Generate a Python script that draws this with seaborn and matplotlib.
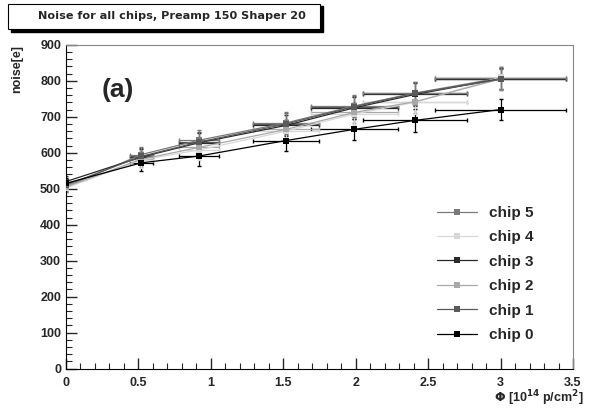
import numpy as np
import pandas as pd
import matplotlib
matplotlib.use("Agg")
import matplotlib.pyplot as plt
import seaborn as sns
from matplotlib.ticker import MultipleLocator

# fluence points (10^14 p/cm^2) and relative x error
fluence = [0.0, 0.52, 0.92, 1.52, 1.99, 2.41, 3.0]
x_rel_err = 0.15

chips = ["chip 5", "chip 4", "chip 3", "chip 2", "chip 1", "chip 0"]
chip5 = [505, 595, 635, 683, 730, 766, 808]
chip4 = [502, 580, 608, 660, 708, 740, 810]
chip3 = [520, 588, 628, 676, 725, 762, 806]
chip2 = [505, 582, 615, 665, 712, 742, 805]
chip1 = [510, 590, 630, 680, 728, 765, 804]
chip0 = [515, 572, 591, 634, 665, 690, 720]
noise_err = [15, 22, 28, 30, 30, 32, 30]

CORES = {"chip 5": "#7a7a7a", "chip 4": "#d8d8d8", "chip 3": "#2a2a2a",
         "chip 2": "#a8a8a8", "chip 1": "#5a5a5a", "chip 0": "#000000"}

valores = [chip5, chip4, chip3, chip2, chip1, chip0]
linhas = []
for nome, vals in zip(chips, valores):
    for x, y, e in zip(fluence, vals, noise_err):
        linhas.append([nome, x, y, e])
df = pd.DataFrame(linhas, columns=["chip", "fluence", "noise", "err"])

sns.set_style("ticks")
plt.rcParams["font.family"] = ["Liberation Sans", "DejaVu Sans"]
plt.rcParams["font.weight"] = "bold"

fig = plt.figure(figsize=(6, 4.11), dpi=100)
ax = fig.add_axes([0.11, 0.103, 0.845, 0.788])

# error bars first (drawn in reverse so chip 0 sits on top)
for nome in reversed(chips):
    sub = df[df["chip"] == nome]
    ax.errorbar(sub["fluence"], sub["noise"], yerr=sub["err"],
                xerr=sub["fluence"] * x_rel_err, fmt="none",
                ecolor=CORES[nome], elinewidth=0.9, capsize=1.5, zorder=2)

sns.lineplot(data=df, x="fluence", y="noise", hue="chip", hue_order=chips,
             palette=CORES, marker="s", markersize=4, markeredgewidth=0,
             linewidth=0.9, ax=ax, zorder=3)

ax.set_xlim(0, 3.5)
ax.set_ylim(0, 900)
ax.xaxis.set_major_locator(MultipleLocator(0.5))
ax.xaxis.set_minor_locator(MultipleLocator(0.1))
ax.yaxis.set_major_locator(MultipleLocator(100))
ax.yaxis.set_minor_locator(MultipleLocator(20))
ax.xaxis.set_major_formatter(matplotlib.ticker.FuncFormatter(lambda v, p: f"{v:g}"))
ax.tick_params(which="major", direction="in", length=8, width=1, labelsize=9)
ax.tick_params(which="minor", direction="in", length=4, width=0.8)
ax.tick_params(axis="x", pad=6)
for s in ["top", "right"]:
    ax.spines[s].set_visible(True)
    ax.spines[s].set_color("#888888")
for s in ["left", "bottom"]:
    ax.spines[s].set_color("black")

ax.set_xlabel(r"$\Phi$ [10$^{14}$ p/cm$^{2}$]", fontsize=9, fontweight="bold")
ax.xaxis.set_label_coords(1.02, -0.09)
ax.xaxis.label.set_horizontalalignment("right")
ax.xaxis.label.set_verticalalignment("center")
ax.set_ylabel("noise[e]", fontsize=9, fontweight="bold")
ax.yaxis.set_label_coords(-0.085, 1.0)
ax.yaxis.label.set_verticalalignment("bottom")
ax.yaxis.label.set_horizontalalignment("right")

ax.text(0.07, 0.84, "(a)", transform=ax.transAxes, fontsize=19, fontweight="bold")

leg = ax.legend(loc="lower right", bbox_to_anchor=(0.95, 0.04), frameon=False,
                fontsize=11, handlelength=2.6, labelspacing=0.68)
for t in leg.get_texts():
    t.set_fontweight("bold")

# title box with shadow
fig.patches.append(plt.Rectangle((0.018, 0.922), 0.52, 0.063, transform=fig.transFigure,
                                 facecolor="black", edgecolor="black", zorder=0))
fig.patches.append(plt.Rectangle((0.013, 0.93), 0.52, 0.06, transform=fig.transFigure,
                                 facecolor="white", edgecolor="black", linewidth=0.8, zorder=1))
fig.text(0.287, 0.96, "Noise for all chips, Preamp 150 Shaper 20", ha="center", va="center",
         fontsize=8.1, fontweight="bold", family="DejaVu Sans")

fig.savefig("out.png", dpi=100)
plt.close()
